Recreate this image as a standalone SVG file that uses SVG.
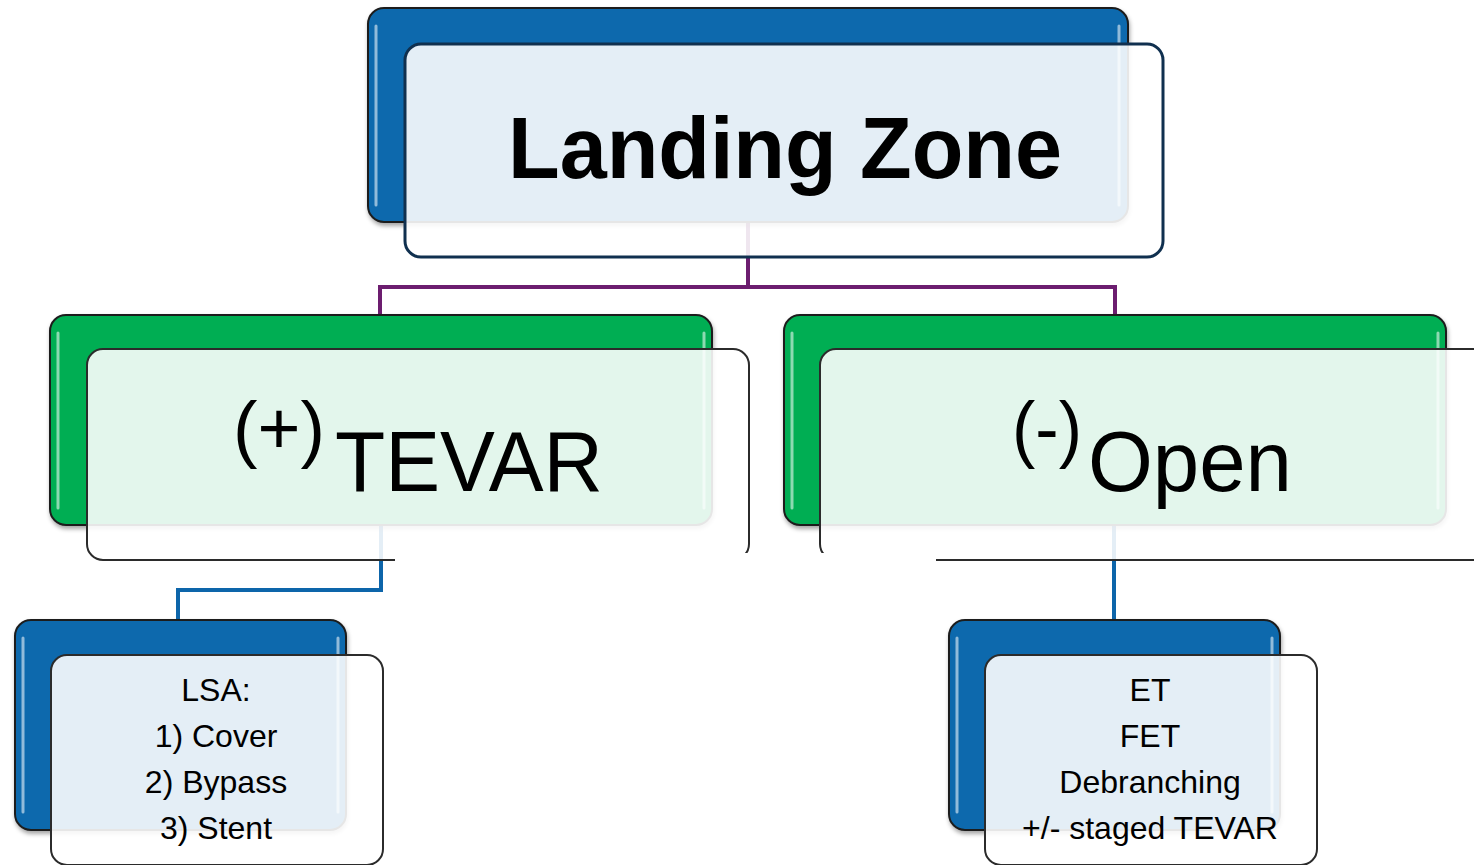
<svg xmlns="http://www.w3.org/2000/svg" width="1474" height="865" viewBox="0 0 1474 865">
  <style>
    .back { stroke: #1e1e1e; stroke-width: 2; filter: url(#shadow); }
    .blue { fill: #0a69ad; }
    .green { fill: #00ae52; }
    .gloss { stroke: #ffffff; stroke-opacity: 0.55; stroke-width: 3; stroke-linecap: round; fill: none; }
    .front { fill: #ffffff; fill-opacity: 0.89; stroke: #2b2b2b; stroke-width: 2; }
    .front-top { stroke: #10304f; stroke-width: 3; }
    .link { fill: none; stroke-width: 4; }
    .purple { stroke: #6c1d6f; }
    .cobalt { stroke: #0d65aa; }
    .txt { font-family: "Liberation Sans", Arial, sans-serif; fill: #000; text-anchor: middle; }
  </style>
  <defs>
    <filter id="shadow" x="-5%" y="-5%" width="110%" height="115%">
      <feDropShadow dx="1" dy="3" stdDeviation="2" flood-color="#000" flood-opacity="0.35"/>
    </filter>
  </defs>

  <rect width="1474" height="865" fill="#ffffff"/>

  <!-- connectors sit beneath the translucent front panels -->
  <g id="connectors">
    <path class="link purple" d="M748 222 V287 M380 315 V287 H1115 V315"/>
    <path class="link cobalt" d="M381 525 V590 H178 V620"/>
    <path class="link cobalt" d="M1114 525 V620"/>
  </g>

  <g id="node-landing-zone">
    <rect class="back blue" x="368" y="8" width="760" height="214" rx="16"/>
    <path class="gloss" d="M376 26 V205 M1119 26 V205"/>
    <rect class="front front-top" x="405" y="44" width="758" height="213" rx="16"/>
    <text class="txt" x="785" y="178" font-size="88" font-weight="bold" textLength="554" lengthAdjust="spacingAndGlyphs">Landing Zone</text>
  </g>

  <g id="node-tevar">
    <rect class="back green" x="50" y="315" width="662" height="210" rx="16"/>
    <path class="gloss" d="M58 333 V508 M704 333 V508"/>
    <rect class="front" x="87" y="349" width="662" height="211" rx="16"/>
    <text class="txt" x="279" y="454" font-size="74" textLength="92" lengthAdjust="spacingAndGlyphs">(+)</text>
    <text class="txt" x="469" y="491" font-size="86" textLength="268" lengthAdjust="spacingAndGlyphs">TEVAR</text>
  </g>

  <g id="node-open">
    <rect class="back green" x="784" y="315" width="662" height="210" rx="16"/>
    <path class="gloss" d="M792 333 V508 M1438 333 V508"/>
    <rect class="front" x="820" y="349" width="668" height="211" rx="16"/>
    <text class="txt" x="1047" y="454" font-size="74" textLength="70" lengthAdjust="spacingAndGlyphs">(-)</text>
    <text class="txt" x="1190" y="491" font-size="86" textLength="204" lengthAdjust="spacingAndGlyphs">Open</text>
  </g>

  <!-- blank band cut across the lower panel edges -->
  <rect x="395" y="553" width="541" height="60" fill="#ffffff"/>

  <g id="node-lsa">
    <rect class="back blue" x="15" y="620" width="331" height="210" rx="16"/>
    <path class="gloss" d="M23 638 V812 M338 638 V812"/>
    <rect class="front" x="51" y="655" width="332" height="210" rx="16"/>
    <g class="txt" font-size="32">
      <text x="216" y="701">LSA:</text>
      <text x="216" y="747">1) Cover</text>
      <text x="216" y="793">2) Bypass</text>
      <text x="216" y="839">3) Stent</text>
    </g>
  </g>

  <g id="node-open-options">
    <rect class="back blue" x="949" y="620" width="331" height="210" rx="16"/>
    <path class="gloss" d="M957 638 V812 M1272 638 V812"/>
    <rect class="front" x="985" y="655" width="332" height="210" rx="16"/>
    <g class="txt" font-size="32">
      <text x="1150" y="701">ET</text>
      <text x="1150" y="747">FET</text>
      <text x="1150" y="793">Debranching</text>
      <text x="1150" y="839">+/- staged TEVAR</text>
    </g>
  </g>
</svg>
